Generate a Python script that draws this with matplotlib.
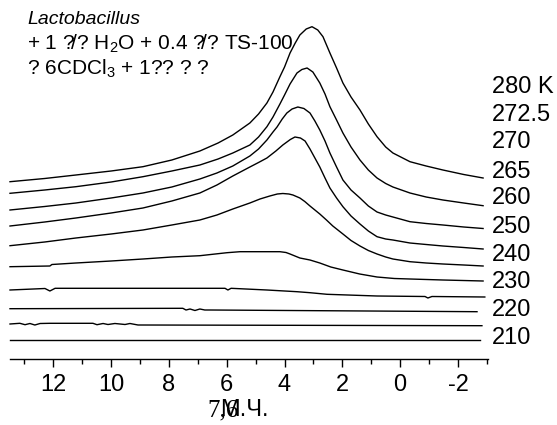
import matplotlib
matplotlib.use('Agg')
import matplotlib.pyplot as plt
from matplotlib.ticker import MultipleLocator

plt.rcParams['font.family'] = ['Liberation Sans', 'DejaVu Sans']
plt.rcParams['mathtext.default'] = 'regular'

# chemical shift (ppm) and stacked intensity (a.u.) for each temperature
temps = ['280 K', '272.5', '270', '265', '260', '250', '240', '230', '220', '210']

x280 = [13.5, 12.3, 11.22, 10.0, 8.9, 7.9, 6.93, 6.3, 5.79, 5.2, 4.9, 4.61, 4.4, 4.16, 4.0,
        3.81, 3.63, 3.47, 3.25, 3.05, 2.85, 2.67, 2.43, 2.2, 1.98, 1.7, 1.39, 1.1, 0.8,
        0.5, 0.25, -0.34, -0.9, -1.48, -2.2, -2.87]
y280 = [177.3, 180.5, 184, 188, 192.3, 199, 208, 216, 224, 236, 245, 256, 267, 282.3, 292,
        306, 316, 324, 330, 332.3, 329, 322.3, 306, 291, 276, 262, 249, 235, 222.3,
        212, 206, 197.3, 193, 189, 184.5, 181]

x272 = [13.5, 12.3, 11.22, 10.0, 8.9, 7.9, 6.93, 6.3, 5.79, 5.2, 4.9, 4.61, 4.4, 4.16, 4.0,
        3.81, 3.57, 3.4, 3.22, 3.02, 2.78, 2.6, 2.43, 2.2, 1.98, 1.7, 1.39, 1.1, 0.8,
        0.5, 0.25, -0.34, -0.9, -1.48, -2.2, -2.87]
y272 = [165.7, 169, 172.3, 177, 182.3, 188, 194, 200, 206, 214, 222, 232.3, 242, 255, 264,
        275, 286, 289.5, 291, 287, 276, 265, 252.3, 239, 226, 212, 199, 189, 181,
        175.5, 172, 166, 162, 159, 156, 153.3]

x270 = [13.5, 12.3, 11.22, 10.0, 8.9, 7.9, 6.93, 6.34, 5.79, 5.2, 4.9, 4.61, 4.4, 4.26, 4.08,
        3.92, 3.74, 3.54, 3.33, 3.12, 2.95, 2.78, 2.6, 2.43, 2.2, 1.98, 1.7, 1.39, 1.1,
        0.8, 0.5, 0.25, -0.34, -0.9, -1.48, -2.2, -2.87]
y270 = [149, 152.5, 156, 161, 166, 172, 180, 186, 193, 203, 210, 219, 227, 232, 240,
        246, 250, 252, 250.5, 246, 238, 229, 218, 206, 192, 179, 169, 161, 153,
        147, 144, 142, 137.3, 135.5, 134, 132, 130.5]

x265 = [13.5, 12.3, 11.22, 10.0, 8.9, 7.9, 6.93, 6.34, 5.79, 5.2, 4.9, 4.61, 4.3, 4.06, 3.8,
        3.64, 3.45, 3.29, 3.12, 2.95, 2.78, 2.6, 2.43, 2.2, 1.98, 1.7, 1.39, 1.1, 0.8,
        0.5, 0.25, -0.34, -0.9, -1.48, -2.2, -2.87]
y265 = [133, 137, 141, 146, 151, 158, 166, 174, 183, 192, 196.5, 201, 208, 214, 219.5,
        222, 221, 218, 210, 201, 192, 181, 171, 161, 152.3, 143, 135, 128, 122.3,
        120, 119, 116, 114.5, 113, 111.5, 110]

x260 = [13.5, 12.3, 11.22, 10.0, 8.9, 7.9, 6.93, 6.34, 5.79, 5.2, 4.85, 4.51, 4.25, 4.06, 3.85,
        3.71, 3.47, 3.3, 3.12, 2.95, 2.78, 2.55, 2.33, 1.98, 1.7, 1.39, 1.1, 0.8,
        0.5, 0.25, -0.34, -0.9, -1.48, -2.2, -2.87]
y260 = [113.3, 117, 121, 125, 129, 134, 139, 144, 150, 156, 160, 163, 165, 165.5, 165,
        164, 161, 157.5, 153, 149, 145, 139, 133, 125, 118.5, 113, 108.5, 105,
        102, 100, 97.3, 96, 95, 94, 93]

x250 = [13.5, 12.12, 12.05, 11.22, 10.0, 8.9, 7.9, 6.93, 5.99, 5.54, 4.16, 3.95, 3.81, 3.47,
        3.12, 2.78, 2.4, 1.98, 1.4, 0.8, 0.2, -0.34, -1.48, -2.87]
y250 = [92.3, 93, 94.5, 96, 98, 100, 102, 103.3, 106.3, 107.3, 107.3, 106.5, 105, 101,
        99, 96, 92, 89, 85, 82, 80.5, 80, 79, 78]

x240 = [13.50, 12.29, 12.12, 11.94, 6.06, 5.96, 5.85, 4.61, 3.57, 3.12, 2.53, 0.80,
        -0.86, -0.96, -1.10, -2.93]
y240 = [69, 70.5, 68, 70.7, 70.7, 69, 70.7, 69, 67.3, 66.3, 64.7, 63,
        62.5, 61, 62.5, 62]

x230 = [13.50, 7.52, 7.41, 7.27, 7.10, 6.93, 6.76, 6.58, -2.66]
y230 = [50.3, 50.7, 49, 50, 48.5, 50, 49, 49, 47.3]

x220 = [13.50, 13.16, 12.98, 12.81, 12.64, 12.46, 12.12, 10.63, 10.49, 10.28, 10.11, 9.87,
        9.52, 9.35, 9.07, -2.83]
y220 = [35, 35.7, 34.3, 35.5, 34, 35.5, 35.7, 35.7, 34.3, 35.5, 34.5, 35.5,
        34.5, 35.5, 34, 33.3]

x210 = [13.50, -2.76]
y210 = [19, 19]

spectra = [(x280, y280), (x272, y272), (x270, y270), (x265, y265), (x260, y260),
           (x250, y250), (x240, y240), (x230, y230), (x220, y220), (x210, y210)]

# where the temperature labels sit (a.u.)
label_y = [272, 244, 217, 187, 161, 132, 104, 77, 49, 21]

W, H = 557, 425
fig = plt.figure(figsize=(W / 100, H / 100), dpi=100)
ax = fig.add_axes([10 / W, (H - 359) / H, 478 / W, 359 / H])

for xs, ys in spectra:
    ax.plot(xs, ys, color='black', lw=1.0, clip_on=False, solid_joinstyle='round')

ax.set_xlim(13.5, -3.04)
ax.set_ylim(0, 359)

for s in ['top', 'left', 'right']:
    ax.spines[s].set_visible(False)
ax.spines['bottom'].set_linewidth(1.0)
ax.set_yticks([])
ax.set_xticks([12, 10, 8, 6, 4, 2, 0, -2])
ax.set_xticklabels(['12', '10', '8', '6', '4', '2', '0', '-2'])
ax.xaxis.set_minor_locator(MultipleLocator(1))
ax.tick_params(axis='x', which='major', length=6, width=1.0, labelsize=17, pad=5)
ax.tick_params(axis='x', which='minor', length=3.5, width=1.0)

for t, yl in zip(temps, label_y):
    ax.text(-3.18, yl, t, fontsize=17, ha='left', va='center', clip_on=False)

# sample description, top left
fig.text(27 / W, 1 - 20 / H, 'Lactobacillus', fontsize=14, style='italic', va='center')
fig.text(27 / W, 1 - 44 / H, r'+ 1 ?$\!$/? H$_2$O + 0.4 ?$\!$/? TS-100',
         fontsize=15, va='center')
fig.text(27 / W, 1 - 69 / H, '? 6CDCl$_3$ + 1?? ? ?', fontsize=15, va='center')

# axis title (overlapping glyphs as in the source)
fig.text(207 / W, 1 - 416 / H, '7,6', fontsize=18, family=['Liberation Serif', 'DejaVu Serif'],
         va='baseline')
fig.text(220 / W, 1 - 416 / H, 'М.Ч.', fontsize=17, va='baseline')

fig.savefig('out.png', dpi=100)
